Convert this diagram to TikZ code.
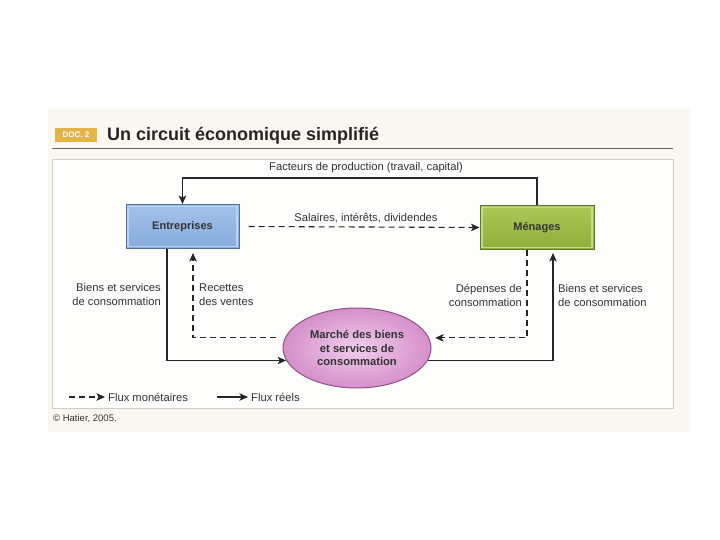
\documentclass[tikz,border=0pt]{standalone}
\usepackage{fontspec}
\setmainfont{Liberation Sans}
\usetikzlibrary{arrows.meta,shapes.geometric}
\definecolor{scanbg}{HTML}{FAF7F0}
\definecolor{framebg}{HTML}{FDFDFC}
\definecolor{framec}{HTML}{CFCDC8}
\definecolor{ink}{HTML}{262626}
\definecolor{txt}{HTML}{333333}
\definecolor{entA}{HTML}{A2C2EA}
\definecolor{entB}{HTML}{85ABDB}
\definecolor{entD}{HTML}{4F6F98}
\definecolor{entL}{HTML}{BCD3F0}
\definecolor{menA}{HTML}{ABC955}
\definecolor{menB}{HTML}{8EAD3A}
\definecolor{menD}{HTML}{557A2C}
\definecolor{menL}{HTML}{C6DB86}
\definecolor{mktIn}{HTML}{F0CDEA}
\definecolor{mktOut}{HTML}{D68FCB}
\definecolor{mktD}{HTML}{8C5784}
\definecolor{docc}{HTML}{E4B449}
\tikzset{
  lab/.style={inner sep=0pt, font=\fontsize{11.2}{13.5}\selectfont, text=txt},
  boxlab/.style={font=\fontsize{11}{13}\selectfont\bfseries, text=txt},
  realarr/.style={draw=ink, line width=1.1pt, -{Stealth[length=8.5pt,width=7.5pt,inset=2pt]}},
  monarr/.style={draw=ink, line width=1.1pt, dash pattern=on 6pt off 4pt, -{Stealth[length=8.5pt,width=7.5pt,inset=2pt]}},
  inbevel/.style={path picture={\draw[#1,line width=1.6pt] ([xshift=2.2pt,yshift=2.2pt]path picture bounding box.south west) rectangle ([xshift=-2.2pt,yshift=-2.2pt]path picture bounding box.north east);}},
  entbox/.style={boxlab, rectangle, minimum width=113pt, minimum height=44pt, inner sep=0pt,
     top color=entA, bottom color=entB, draw=entD, line width=1pt, inbevel=entL},
  menbox/.style={boxlab, rectangle, minimum width=114pt, minimum height=44pt, inner sep=0pt,
     top color=menA, bottom color=menB, draw=menD, line width=1pt, inbevel=menL},
  mktnode/.style={ellipse, minimum width=148pt, minimum height=80pt, inner sep=0pt,
     inner color=mktIn, outer color=mktOut, draw=mktD, line width=1pt,
     font=\fontsize{11.2}{13.3}\selectfont\bfseries, text=txt, align=center},
}
\begin{document}
\begin{tikzpicture}[x=1pt,y=-1pt]
\useasboundingbox (0,0) rectangle (720,540);
\fill[white] (0,0) rectangle (720,540);
\fill[scanbg] (48,109) rectangle (690,432);
\draw[framec, fill=framebg, line width=0.8pt] (52,159) rectangle (673,408);

% title
\node[fill=docc, minimum width=42pt, minimum height=14pt, inner sep=0pt,
      font=\fontsize{8}{8}\selectfont\bfseries, text=white] (doc) at (76,135) {DOC. 2};
\node[anchor=west, inner sep=0pt, font=\fontsize{18}{20}\selectfont\bfseries, text=ink] (title) at (107,136) {Un circuit économique simplifié};
\draw[gray!80!black, line width=0.8pt] (52,148.5) -- (673,148.5);

% main nodes
\node[entbox] (ent) at (182.5,226.5) {Entreprises};
\node[menbox] (men) at (537,227.5) {Ménages};
\node[mktnode] (mkt) at (357,348) {Marché des biens\\et services de\\consommation};

% top connector
\coordinate (topc) at (0,178);
\draw[realarr] (men.north) -- (men.north |- topc) -| (ent.north);
\node[lab] (fac) at (366,168) {Facteurs de production (travail, capital)};

% salaries
\draw[monarr] ([xshift=9pt]ent.east) -- (men.west);
\node[lab] (sal) at (366,218) {Salaires, intérêts, dividendes};

% left side
\draw[realarr] ([xshift=-15.5pt]ent.south) |- (mkt.190);
\draw[monarr, shorten <=9pt, shorten >=4pt] (mkt.172) -| ([xshift=10.5pt]ent.south);
\node[lab, anchor=east, align=right] (lbs) at (161,294.5) {Biens et services\\de consommation};
\node[lab, anchor=west, align=left] (rec) at (199,294.5) {Recettes\\des ventes};

% right side
\draw[monarr, shorten >=6pt] ([xshift=-10pt]men.south) |- (mkt.8);
\draw[realarr, shorten >=3pt] (mkt.-10) -| ([xshift=16pt]men.south);
\node[lab, anchor=east, align=right] (dep) at (522,295.5) {Dépenses de\\consommation};
\node[lab, anchor=west, align=left] (rbs) at (558,295.5) {Biens et services\\de consommation};

% legend
\node[lab, anchor=west] (lgm) at (108,397) {Flux monétaires};
\draw[monarr] ([xshift=-39pt]lgm.west) -- ([xshift=-3pt]lgm.west);
\node[lab, anchor=west] (lgr) at (251,397) {Flux réels};
\draw[realarr] ([xshift=-34pt]lgr.west) -- ([xshift=-3pt]lgr.west);

% copyright
\node[lab, anchor=west, font=\fontsize{9.5}{11}\selectfont] (copy) at (53,419) {© Hatier, 2005.};
\end{tikzpicture}
\end{document}
